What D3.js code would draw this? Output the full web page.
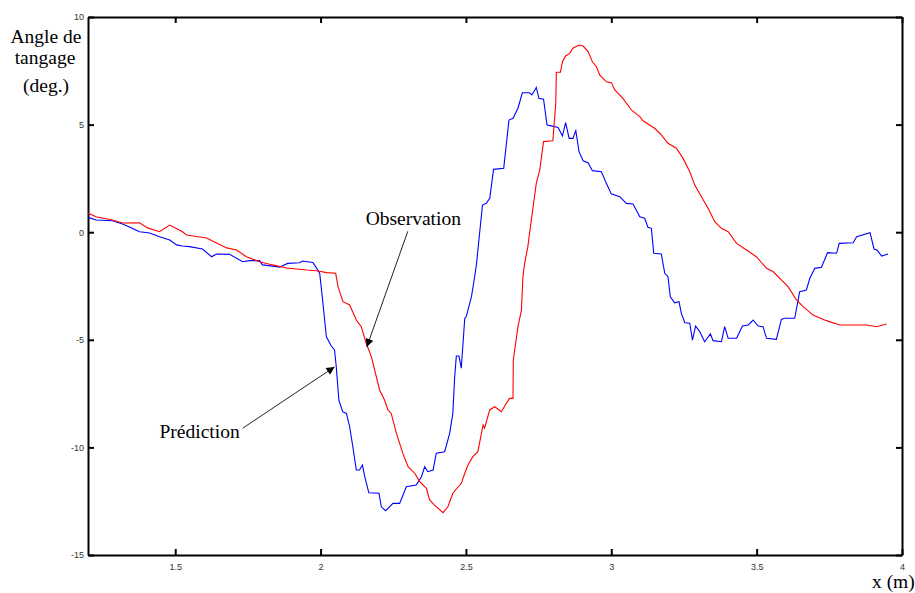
<!DOCTYPE html>
<html>
<head>
<meta charset="utf-8">
<script src="https://cdn.jsdelivr.net/npm/d3@7"></script>
<style>
  body { margin: 0; background: #fff; }
  .axis path, .axis line { stroke: #000; stroke-width: 2px; }
  .axis text { font-family: "Liberation Sans", Arial, sans-serif; font-size: 9px; fill: #333; }
  .label { font-family: "Liberation Serif", "Times New Roman", serif; font-size: 19.5px; fill: #000; }
</style>
</head>
<body>
<div id="canvas"></div>
<script>
// Observation (red)
var observationX = [1.200,1.228,1.284,1.319,1.377,1.405,1.446,1.481,1.525,1.539,1.608,1.642,1.677,1.711,1.745,1.790,1.835,1.883,1.952,1.986,
  2.021,2.052,2.060,2.077,2.100,2.123,2.140,2.157,2.175,2.203,2.220,2.232,2.243,2.261,2.283,2.301,2.324,2.341,2.364,2.375,
  2.392,2.421,2.438,2.455,2.484,2.496,2.507,2.524,2.541,2.559,2.564,2.582,2.599,2.622,2.639,2.650,2.662,2.663,2.679,2.691,
  2.696,2.702,2.713,2.725,2.742,2.754,2.767,2.799,2.809,2.811,2.825,2.832,2.843,2.857,2.868,2.889,2.903,2.920,2.935,2.949,
  2.960,2.983,3.000,3.012,3.040,3.069,3.098,3.109,3.149,3.172,3.195,3.224,3.247,3.270,3.287,3.310,3.333,3.356,3.379,3.402,
  3.431,3.465,3.499,3.534,3.557,3.585,3.608,3.637,3.660,3.694,3.740,3.786,3.878,3.912,3.947];
var observationY = [0.88,0.72,0.57,0.43,0.44,0.20,0.02,0.33,0.02,-0.13,-0.27,-0.50,-0.73,-0.83,-1.14,-1.37,-1.52,-1.66,-1.76,-1.79,
  -1.88,-1.91,-2.53,-3.23,-3.38,-4.08,-4.39,-5.16,-5.79,-7.33,-7.80,-8.26,-8.42,-9.35,-10.28,-10.90,-11.20,-11.59,-11.90,-12.44,
  -12.68,-13.03,-12.76,-12.13,-11.67,-11.20,-10.82,-10.43,-10.20,-8.96,-9.11,-8.26,-8.11,-8.34,-7.95,-7.72,-7.72,-5.94,-4.39,-3.62,
  -2.07,-1.45,-0.67,0.57,2.27,2.89,4.21,4.25,5.99,7.43,7.43,7.92,8.19,8.31,8.55,8.70,8.65,8.39,7.92,7.69,
  7.31,6.99,6.95,6.61,6.22,5.68,5.37,5.18,4.83,4.52,4.13,3.90,3.43,2.81,2.19,1.65,1.11,0.49,0.18,0.02,
  -0.52,-0.83,-1.14,-1.68,-1.84,-2.22,-2.53,-3.15,-3.46,-3.85,-4.11,-4.31,-4.31,-4.39,-4.27];

// Prédiction (blue)
var predictionX = [1.200,1.228,1.284,1.319,1.350,1.377,1.412,1.446,1.481,1.505,1.525,1.549,1.594,1.625,1.642,1.687,1.732,1.756,1.790,1.800,
  1.849,1.859,1.887,1.928,1.938,1.973,1.979,1.997,2.007,2.020,2.037,2.048,2.054,2.063,2.076,2.089,2.100,2.111,2.123,2.134,
  2.144,2.152,2.166,2.201,2.209,2.224,2.249,2.272,2.295,2.329,2.347,2.358,2.369,2.387,2.398,2.427,2.444,2.455,2.461,2.467,
  2.476,2.484,2.496,2.501,2.519,2.530,2.536,2.547,2.557,2.570,2.582,2.595,2.630,2.648,2.662,2.679,2.694,2.719,2.727,2.742,
  2.751,2.767,2.779,2.794,2.817,2.832,2.843,2.855,2.868,2.878,2.889,2.903,2.920,2.935,2.966,2.983,3.000,3.029,3.052,3.075,
  3.098,3.115,3.126,3.138,3.146,3.172,3.184,3.195,3.203,3.218,3.233,3.241,3.253,3.270,3.279,3.290,3.304,3.321,3.341,3.350,
  3.379,3.390,3.402,3.431,3.451,3.471,3.488,3.505,3.522,3.534,3.568,3.585,3.597,3.631,3.648,3.671,3.683,3.700,3.723,3.744,
  3.775,3.784,3.832,3.844,3.890,3.904,3.914,3.930,3.952];
var predictionY = [0.69,0.57,0.53,0.38,0.20,0.02,-0.04,-0.21,-0.36,-0.59,-0.64,-0.67,-0.78,-1.14,-1.01,-1.03,-1.37,-1.32,-1.32,-1.52,
  -1.60,-1.63,-1.45,-1.42,-1.34,-1.41,-1.52,-1.91,-3.15,-4.86,-5.29,-5.47,-6.25,-7.80,-8.34,-8.42,-9.04,-9.97,-11.05,-11.05,
  -10.82,-11.36,-12.11,-12.13,-12.76,-12.94,-12.60,-12.60,-11.83,-11.75,-11.36,-10.90,-11.13,-11.05,-10.27,-10.20,-9.35,-8.42,-6.79,-5.75,
  -5.75,-6.32,-4.00,-3.93,-3.00,-2.07,-1.52,-0.05,1.26,1.34,1.58,2.92,2.97,5.21,5.29,5.76,6.48,6.48,6.38,6.73,
  6.22,6.18,4.98,4.94,4.87,4.47,5.09,4.36,4.36,4.72,3.74,3.32,3.23,2.86,2.81,2.27,1.78,1.65,1.34,1.31,
  0.72,0.65,0.23,0.18,-0.98,-1.01,-1.91,-2.07,-3.00,-3.28,-3.23,-3.77,-4.21,-4.23,-5.01,-4.36,-4.62,-5.09,-4.73,-5.04,
  -5.09,-4.39,-4.93,-4.93,-4.36,-4.31,-4.08,-4.36,-4.39,-4.93,-4.98,-4.05,-4.00,-4.00,-2.76,-2.69,-2.14,-1.68,-1.63,-0.95,
  -0.98,-0.52,-0.49,-0.21,-0.02,-0.79,-0.83,-1.11,-1.01];

var xTicks = [1.5, 2, 2.5, 3, 3.5, 4];
var yTicks = [-15, -10, -5, 0, 5, 10];

// annotation anchors, in data units: [text x, text y, arrow tail x, tail y, tip x, tip y]
var obsNote = ['Observation', 2.155, 0.33, 2.300, 0.04, 2.159, -5.33];
var predNote = ['Prédiction', 1.446, -9.56, 1.732, -9.11, 2.048, -6.26];

var W = 915, H = 593;
var m = {t: 17, r: 13, b: 38, l: 88};
var w = W - m.l - m.r, h = H - m.t - m.b;

var svg = d3.select('#canvas').append('svg')
  .attr('width', W).attr('height', H);

svg.append('defs').append('marker')
  .attr('id', 'arrow')
  .attr('viewBox', '0 0 10 10')
  .attr('refX', 10).attr('refY', 5)
  .attr('markerWidth', 11).attr('markerHeight', 8)
  .attr('markerUnits', 'userSpaceOnUse')
  .attr('orient', 'auto')
  .append('path').attr('d', 'M0,0 L10,5 L0,10 z').attr('fill', '#000');

var plot = svg.append('g').attr('transform', 'translate(' + m.l + ',' + m.t + ')');

var scaleX = d3.scaleLinear().domain([1.2, 4]).range([0, w]);
var scaleY = d3.scaleLinear().domain([-15, 10]).range([h, 0]);

// axes, ticks pointing inward on all four sides
plot.append('g').attr('class', 'axis')
  .attr('transform', 'translate(0,' + h + ')')
  .call(d3.axisBottom(scaleX).tickValues(xTicks).tickSize(-6).tickSizeOuter(0).tickPadding(9)
    .tickFormat(function(d){ return String(d); }));
plot.append('g').attr('class', 'axis')
  .call(d3.axisTop(scaleX).tickValues(xTicks).tickSize(-6).tickSizeOuter(0).tickFormat(''));
plot.append('g').attr('class', 'axis')
  .call(d3.axisLeft(scaleY).tickValues(yTicks).tickSize(-6).tickSizeOuter(0).tickPadding(4)
    .tickFormat(function(d){ return String(d); }));
plot.append('g').attr('class', 'axis')
  .attr('transform', 'translate(' + w + ',0)')
  .call(d3.axisRight(scaleY).tickValues(yTicks).tickSize(-6).tickSizeOuter(0).tickFormat(''));

plot.selectAll('.axis text').style('stroke', 'none').style('stroke-width', 0);

var line = d3.line()
  .x(function(d){ return scaleX(d[0]); })
  .y(function(d){ return scaleY(d[1]); });

var obsData = d3.zip(observationX, observationY);
var predData = d3.zip(predictionX, predictionY);

plot.append('path').datum(predData)
  .attr('d', line).attr('fill', 'none').attr('stroke', '#0000ff').attr('stroke-width', 1.1);
plot.append('path').datum(obsData)
  .attr('d', line).attr('fill', 'none').attr('stroke', '#ff0000').attr('stroke-width', 1.1);

// annotations
[obsNote, predNote].forEach(function(n){
  plot.append('text').attr('class', 'label')
    .attr('x', scaleX(n[1])).attr('y', scaleY(n[2]))
    .text(n[0]);
  plot.append('line')
    .attr('x1', scaleX(n[3])).attr('y1', scaleY(n[4]))
    .attr('x2', scaleX(n[5])).attr('y2', scaleY(n[6]))
    .attr('stroke', '#222').attr('stroke-width', 1)
    .attr('marker-end', 'url(#arrow)');
});

// axis titles
var yTitle = svg.append('text').attr('class', 'label').attr('text-anchor', 'middle');
yTitle.append('tspan').attr('x', 46).attr('y', 43).text('Angle de');
yTitle.append('tspan').attr('x', 45).attr('y', 64).text('tangage');
yTitle.append('tspan').attr('x', 46).attr('y', 92).text('(deg.)');

svg.append('text').attr('class', 'label')
  .attr('x', 872).attr('y', 588)
  .text('x (m)');
</script>
</body>
</html>
